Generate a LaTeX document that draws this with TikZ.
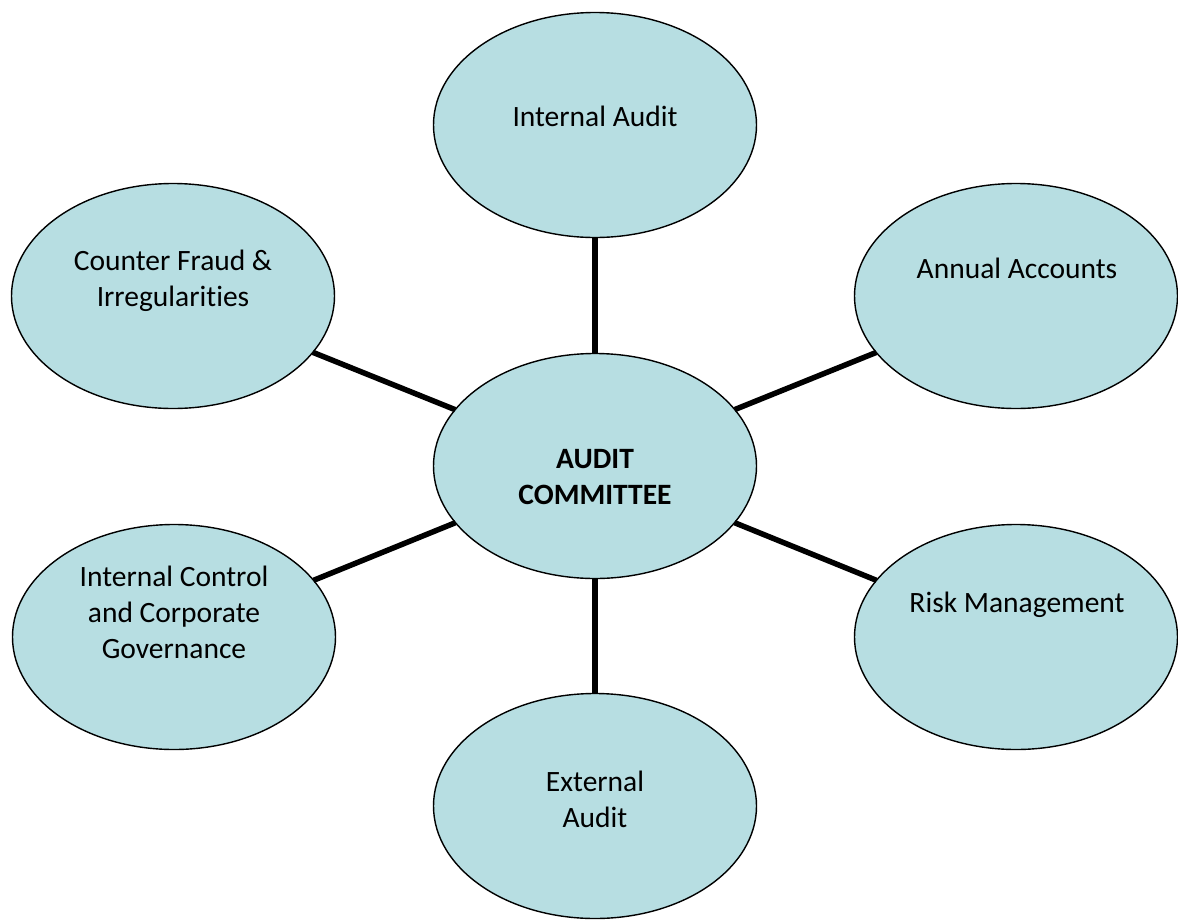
\documentclass[tikz,border=0pt]{standalone}
\usepackage{fontspec}
\setmainfont[Ligatures=NoCommon]{Carlito}
\usetikzlibrary{shapes.geometric}
\definecolor{bubble}{RGB}{183,222,226}
\tikzset{
  bubble/.style={ellipse, draw=black, line width=1.4pt, fill=bubble,
    minimum width=323pt, minimum height=225pt, inner sep=0pt, outer sep=0pt},
  label/.style={align=center, anchor=base, inner sep=0pt,
    font=\fontsize{29.5}{36}\selectfont},
  link/.style={line width=5.5pt, black}
}
\begin{document}
\begin{tikzpicture}[x=1pt, y=-1pt]
\useasboundingbox (0,0) rectangle (1178,919);
\node[bubble] (ia) at (595,125) {};
\node[bubble] (aa) at (1016,296) {};
\node[bubble] (cf) at (173,296) {};
\node[bubble] (ac) at (595,466) {};
\node[bubble] (ic) at (174,637) {};
\node[bubble] (rm) at (1016,637) {};
\node[bubble] (ea) at (595,806) {};
\foreach \n in {ia,aa,cf,ic,rm,ea} \draw[link] (ac) -- (\n);
\node[label] (tia) at (595,126) {Internal Audit};
\node[label] (taa) at (1017,278) {Annual Accounts};
\node[label] (tcf) at (173,306) {Counter Fraud \&\\Irregularities};
\node[label] (tac) at (595,504) {\bfseries AUDIT\\\bfseries COMMITTEE};
\node[label] (tic) at (174,658) {Internal Control\\and Corporate\\Governance};
\node[label] (trm) at (1017,612) {Risk Management};
\node[label] (tea) at (595,827) {External\\Audit};
\end{tikzpicture}
\end{document}
